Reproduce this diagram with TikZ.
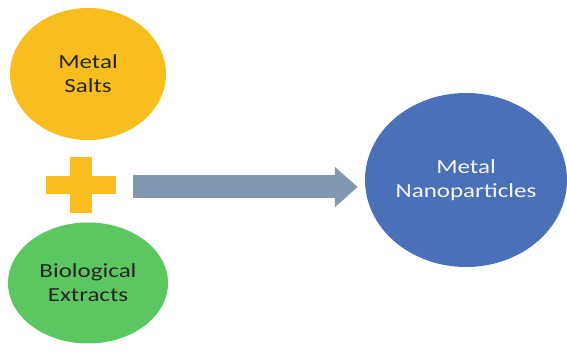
\documentclass[tikz,border=0pt]{standalone}
\usepackage{fontspec}
\usepackage{tikz}
\usetikzlibrary{arrows.meta, positioning, shapes.geometric, calc}
\newfontfamily\blobfont[FakeStretch=1.25]{Carlito}
\definecolor{saltfill}{HTML}{F8BD1E}
\definecolor{extractfill}{HTML}{5CC660}
\definecolor{nanofill}{HTML}{4A70B8}
\definecolor{flowgray}{HTML}{8497B0}
\definecolor{darktext}{HTML}{262626}

\begin{document}
\begin{tikzpicture}[x=1pt, y=-1pt,
    blob/.style={ellipse, inner sep=0pt, align=center,
                 font=\blobfont\fontsize{20pt}{24pt}\selectfont},
    flow/.style={line width=23pt, color=flowgray,
                 -{Triangle[length=23pt, width=39pt]}},
    plussign/.style={inner sep=0pt, minimum width=69pt, minimum height=56pt}
  ]
    \useasboundingbox (0,0) rectangle (567,352);

    % Inputs
    \node[blob, fill=saltfill, text=darktext, minimum width=156pt, minimum height=132pt]
      (salts) at (88,74) {Metal\\Salts};
    \node[plussign] (plus) at (81,185) {};
    \node[blob, fill=extractfill, text=darktext, minimum width=160pt, minimum height=121pt]
      (extracts) at (88,283) {Biological\\Extracts};

    % Product
    \node[blob, fill=nanofill, text=white!94!nanofill, minimum width=202pt, minimum height=174pt]
      (nano) at (466,180) {Metal\\Nanoparticles};

    % Plus sign
    \fill[saltfill] ([yshift=-9pt]plus.west) rectangle ([yshift=9pt]plus.east);
    \fill[saltfill] ([xshift=-11pt]plus.south) rectangle ([xshift=11pt]plus.north);

    % Reaction arrow
    \draw[flow, shorten <=17pt, shorten >=7pt]
      ([yshift=-2pt]plus.east) -- ([yshift=-2pt]plus.east -| nano.west);
  \end{tikzpicture}
\end{document}
